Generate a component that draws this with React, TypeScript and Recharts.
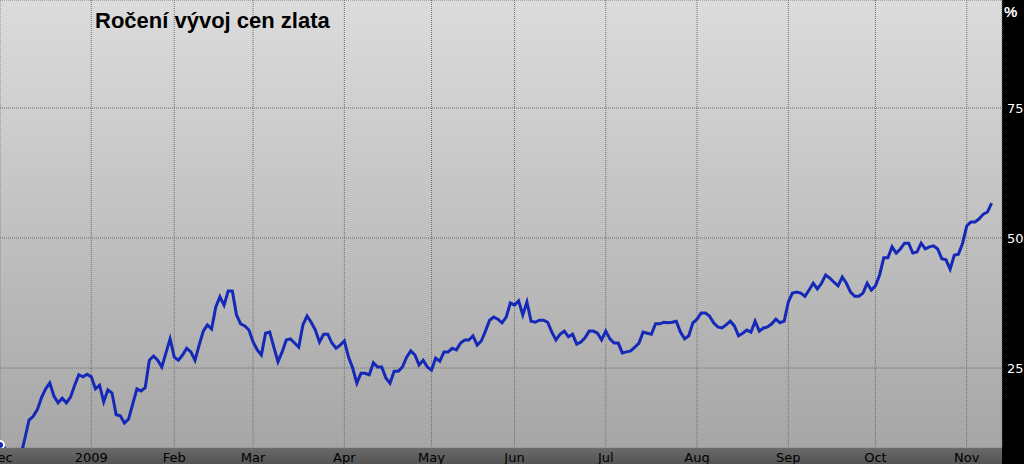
import { LineChart, Line, XAxis, YAxis, CartesianGrid } from "recharts";

// yearly change of the gold price, % — one value per trading day from 1 Dec 2008
const goldPct = [
  10.2, 9.7, 7.7, 6.9, 7.3, 8.1, 11.5, 15.0, 15.7, 17.0,
  19.3, 21.0, 22.1, 19.6, 18.3, 19.2, 18.3, 19.4, 21.7, 23.7,
  23.3, 23.8, 23.3, 21.0, 21.7, 18.5, 20.8, 20.2, 16.0, 15.8,
  14.4, 15.2, 18.1, 21.0, 20.6, 21.2, 26.5, 27.3, 26.5, 25.2,
  27.9, 30.6, 27.1, 26.5, 27.5, 28.8, 28.1, 26.5, 29.4, 32.1,
  33.3, 32.5, 36.7, 38.7, 37.1, 39.8, 39.8, 35.2, 33.5, 33.1,
  32.3, 30.0, 28.5, 27.5, 31.7, 31.9, 29.0, 26.2, 28.1, 30.4,
  30.6, 29.8, 29.0, 33.3, 35.0, 33.8, 32.3, 30.0, 31.5, 31.5,
  29.8, 28.8, 29.4, 30.2, 27.1, 25.0, 22.1, 24.0, 24.0, 23.7,
  26.0, 25.2, 25.2, 23.1, 22.1, 24.4, 24.4, 25.2, 27.1, 28.3,
  27.5, 25.6, 26.5, 25.2, 24.6, 26.9, 26.3, 28.1, 28.1, 28.8,
  28.5, 29.8, 30.4, 30.4, 31.2, 29.4, 30.2, 32.1, 34.2, 34.8,
  34.4, 33.7, 34.8, 37.5, 37.1, 37.9, 35.2, 37.7, 34.0, 33.8,
  34.2, 34.2, 33.8, 31.9, 30.4, 31.5, 32.1, 31.0, 31.5, 29.6,
  30.0, 30.8, 32.1, 32.1, 31.7, 30.4, 32.1, 30.6, 29.8, 29.8,
  27.9, 28.1, 28.3, 29.0, 29.8, 31.9, 31.7, 31.5, 33.5, 33.5,
  33.8, 33.7, 33.8, 34.0, 31.9, 30.6, 31.2, 33.7, 34.4, 35.6,
  35.6, 35.0, 33.7, 32.9, 32.7, 33.3, 34.0, 33.1, 31.2, 31.7,
  32.3, 31.9, 34.0, 32.1, 32.7, 32.9, 33.5, 34.4, 33.7, 34.0,
  37.7, 39.4, 39.6, 39.4, 38.8, 40.0, 41.3, 40.2, 41.3, 42.9,
  42.3, 41.5, 40.8, 42.5, 41.3, 39.6, 38.8, 38.8, 39.4, 41.3,
  40.0, 40.8, 42.9, 46.2, 46.2, 48.3, 47.1, 47.9, 49.0, 49.0,
  47.1, 47.3, 49.0, 47.9, 48.3, 48.5, 47.9, 46.0, 45.8, 44.0,
  46.7, 46.9, 49.0, 52.3, 53.1, 53.1, 53.7, 54.6, 55.0, 56.7,
];

// trading day index where each month starts
const monthTicks = [0, 22, 42, 61, 83, 104, 124, 146, 168, 190, 211, 233];
const monthLabels = ["Dec", "2009", "Feb", "Mar", "Apr", "May", "Jun", "Jul", "Aug", "Sep", "Oct", "Nov"];
const pctTicks = [25, 50, 75];

const data = goldPct.map((v, i) => ({ day: i, pct: v }));

export default function App() {
  return (
    <div style={{ position: "absolute", left: 0, top: 0, width: 1024, height: 464, overflow: "hidden" }}>
      {/* backgrounds */}
      <div
        style={{
          position: "absolute", left: 0, top: 0, width: 1002, height: 448,
          background: "linear-gradient(#dcdcdc, #a6a6a6)",
        }}
      />
      <div
        style={{
          position: "absolute", left: 0, top: 448, width: 1002, height: 16,
          background: "linear-gradient(#6a6a6a, #545454)",
        }}
      />
      <div style={{ position: "absolute", left: 1002, top: 0, width: 22, height: 464, background: "#000" }} />

      <div style={{ position: "absolute", left: 0, top: 0 }}>
        <LineChart width={1024} height={464} data={data} margin={{ top: 0, right: 0, left: 0, bottom: 0 }}>
          <CartesianGrid stroke="#6e6e6e" strokeDasharray="1 1" />
          <XAxis
            dataKey="day"
            type="number"
            domain={[0, 241.5]}
            ticks={monthTicks}
            interval={0}
            height={16}
            axisLine={false}
            tickLine={false}
            tickSize={0}
            tickMargin={5}
            tickFormatter={(v) => monthLabels[monthTicks.indexOf(v)]}
            tick={{ fill: "#000", fontSize: 13, fontFamily: "DejaVu Sans" }}
          />
          <YAxis
            orientation="right"
            width={22}
            domain={[9.62, 95.77]}
            ticks={pctTicks}
            allowDataOverflow
            axisLine={false}
            tickLine={false}
            tickSize={0}
            tickMargin={5}
            tick={{ fill: "#fff", fontSize: 13, fontFamily: "DejaVu Sans" }}
          />
          <Line
            type="linear"
            dataKey="pct"
            stroke="#1529b8"
            strokeWidth={3}
            dot={false}
            isAnimationActive={false}
          />
        </LineChart>
      </div>

      <div
        style={{
          position: "absolute", left: 95, top: 8, fontFamily: "Liberation Sans", fontWeight: "bold",
          fontSize: 22, color: "#000",
        }}
      >
        Ročení vývoj cen zlata
      </div>
      <div
        style={{
          position: "absolute", left: 1004, top: 3, fontFamily: "Liberation Sans", fontWeight: "bold",
          fontSize: 15, color: "#fff",
        }}
      >
        %
      </div>
    </div>
  );
}
